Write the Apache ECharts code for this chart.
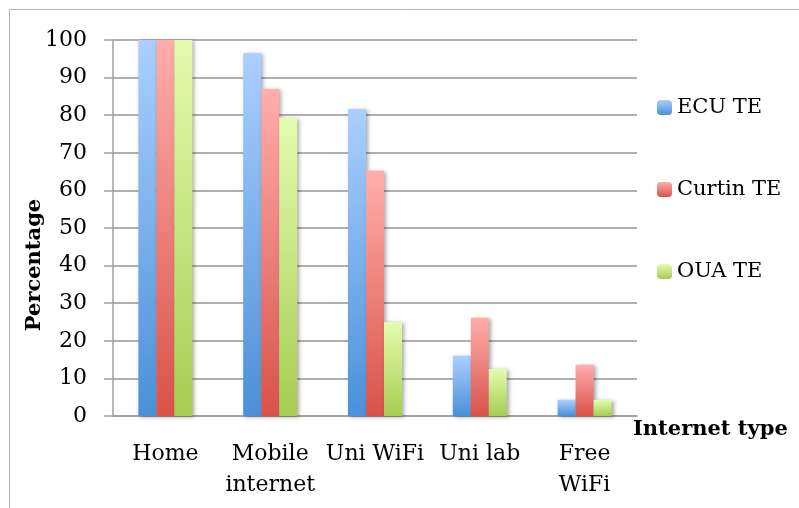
<!DOCTYPE html>
<html>
<head>
<meta charset="utf-8">
<script src="https://cdn.jsdelivr.net/npm/echarts@6/dist/echarts.min.js"></script>
<style>
    html, body {margin: 0; padding: 0; background: #fff;}
    #chart {width: 799px; height: 508px;}
</style>
</head>
<body>
<div id="chart"></div>
<script>
    // data
    const categories = ['Home', 'Mobile\ninternet', 'Uni WiFi', 'Uni lab', 'Free\nWiFi'];
    const ecuValues = [100, 96.5, 81.6, 16.0, 4.3];
    const curtinValues = [100, 87.0, 65.2, 26.1, 13.6];
    const ouaValues = [100, 79.3, 25.0, 12.5, 4.3];
    const yTicks = [0, 10, 20, 30, 40, 50, 60, 70, 80, 90, 100];

    const font = 'DejaVu Serif';

    function grad(top, bottom) {
        return new echarts.graphic.LinearGradient(0, 0, 0, 1, [
            {offset: 0, color: top},
            {offset: 1, color: bottom}
        ]);
    }

    const shadow = {
        shadowBlur: 4,
        shadowColor: 'rgba(0,0,0,0.35)',
        shadowOffsetX: 2,
        shadowOffsetY: 1
    };

    function barSeries(name, values, top, bottom) {
        return {
            name: name,
            type: 'bar',
            data: values,
            barWidth: 18,
            barGap: '0%',
            itemStyle: Object.assign({color: grad(top, bottom)}, shadow)
        };
    }

    const chart = echarts.init(document.getElementById('chart'));

    const option = {
        animation: false,
        backgroundColor: '#fff',
        textStyle: {fontFamily: font, color: '#000'},
        graphic: [{
            type: 'rect',
            shape: {x: 9.5, y: 9.5, width: 820, height: 520},
            style: {fill: 'none', stroke: '#b4b4b4', lineWidth: 1},
            silent: true
        }],
        grid: {left: 113, right: 162, top: 40, bottom: 92},
        legend: {
            orient: 'vertical',
            left: 652,
            top: 92,
            itemWidth: 15,
            itemHeight: 15,
            itemGap: 61,
            textStyle: {fontFamily: font, fontSize: 21, color: '#000'},
            data: ['ECU TE', 'Curtin TE', 'OUA TE']
        },
        xAxis: {
            type: 'category',
            data: categories,
            name: 'Internet type',
            nameLocation: 'end',
            nameGap: -4,
            nameTextStyle: {
                fontFamily: font, fontWeight: 'bold', fontSize: 21, color: '#000',
                verticalAlign: 'top', align: 'left', padding: [3, 0, 0, 0]
            },
            axisLine: {lineStyle: {color: '#a0a0a0', width: 1.5}},
            axisTick: {show: false},
            axisLabel: {
                fontFamily: font, fontSize: 22, color: '#000',
                margin: 23, lineHeight: 31, interval: 0
            }
        },
        yAxis: {
            type: 'value',
            min: yTicks[0],
            max: yTicks[yTicks.length - 1],
            interval: 10,
            name: 'Percentage',
            nameLocation: 'middle',
            nameGap: 68,
            nameMoveOverlap: false,
            nameTextStyle: {
                fontFamily: font, fontWeight: 'bold', fontSize: 21, color: '#000',
                padding: [0, 74, 0, 0]
            },
            axisLine: {show: true, lineStyle: {color: '#a0a0a0', width: 1.5}},
            axisTick: {show: true, length: 9, lineStyle: {color: '#a0a0a0', width: 1.5}},
            splitLine: {lineStyle: {color: '#959595', width: 1.5}},
            axisLabel: {fontFamily: font, fontSize: 22, color: '#000', margin: 26}
        },
        series: [
            barSeries('ECU TE', ecuValues, '#abcfff', '#4a90d8'),
            barSeries('Curtin TE', curtinValues, '#ffaeab', '#d9524a'),
            barSeries('OUA TE', ouaValues, '#e4fcae', '#a6cd52')
        ]
    };

    chart.setOption(option);
</script>
</body>
</html>
